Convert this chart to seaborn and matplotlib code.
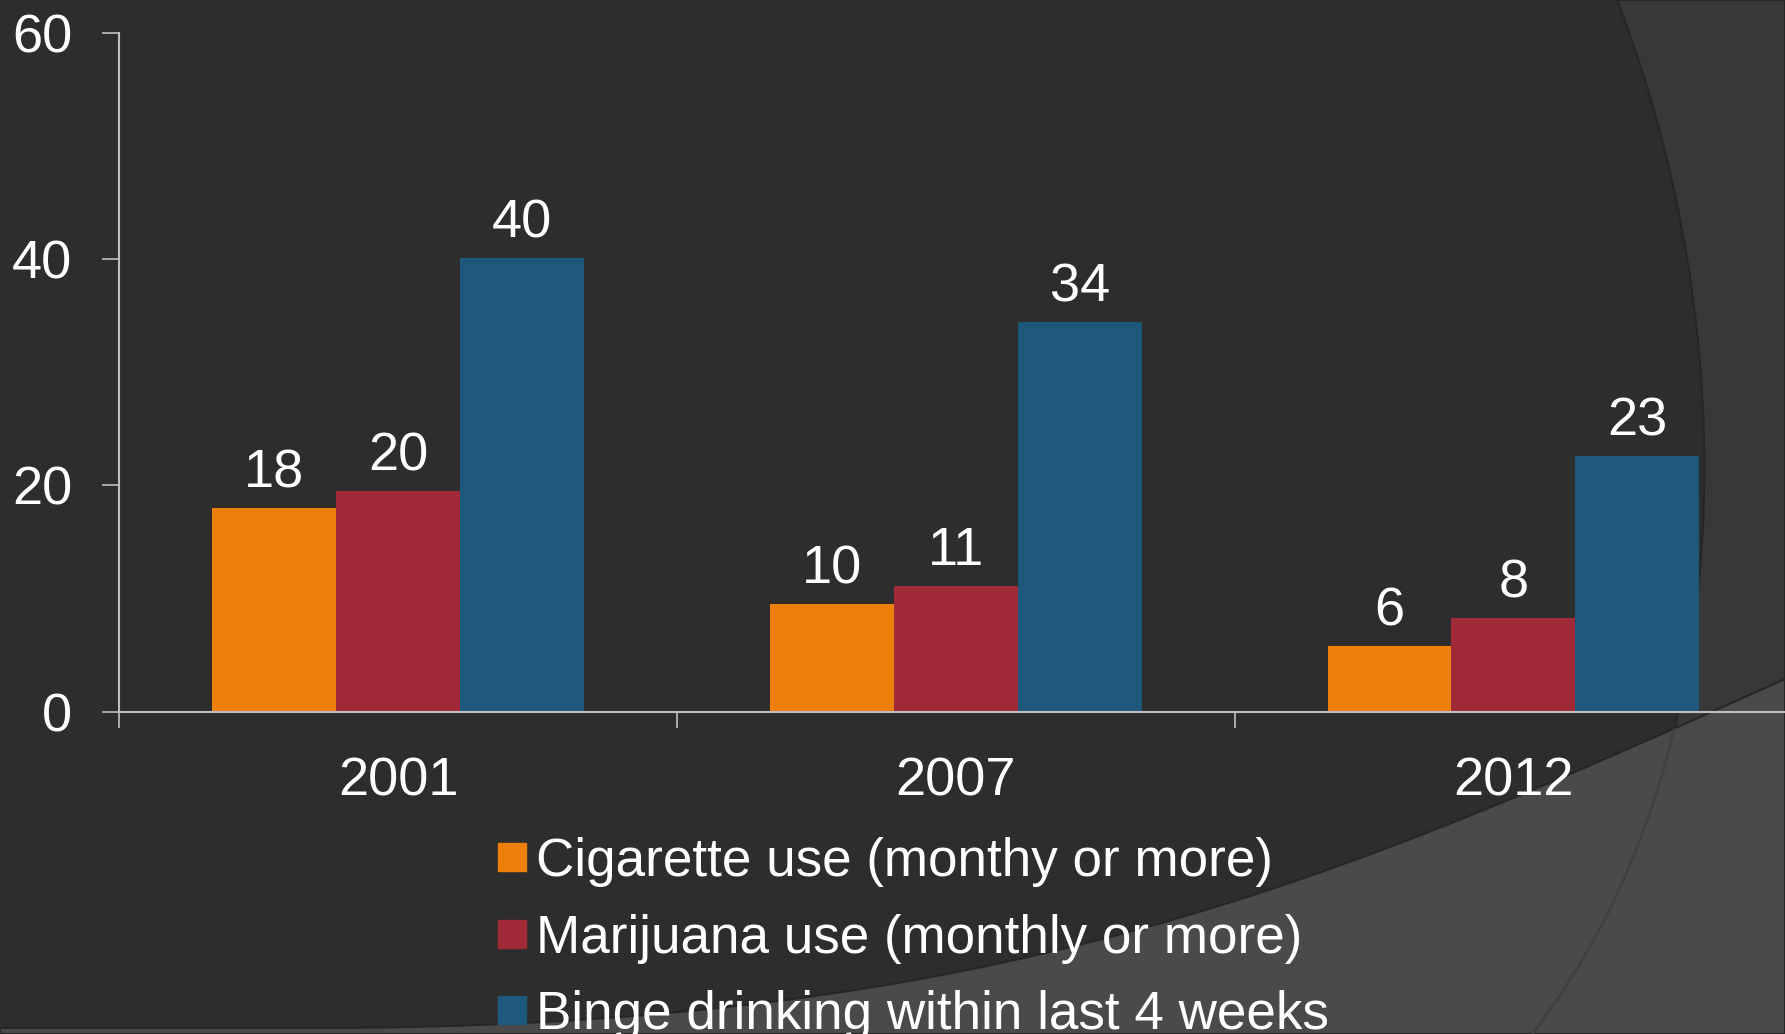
import pandas as pd
import matplotlib.pyplot as plt
import seaborn as sns
from matplotlib.patches import PathPatch
from matplotlib.path import Path
from matplotlib.lines import Line2D

# Data
years = ["2001", "2007", "2012"]
cigarette = [18.0, 9.5, 5.8]
marijuana = [19.5, 11.1, 8.3]
binge = [40.1, 34.4, 22.6]
cig_labels = ["18", "10", "6"]
mar_labels = ["20", "11", "8"]
binge_labels = ["40", "34", "23"]
series = ["Cigarette use (monthy or more)",
          "Marijuana use (monthly or more)",
          "Binge drinking within last 4 weeks"]
colors = ["#EE7F09", "#A12A38", "#1E587C"]

df = pd.DataFrame({
    "year": years * 3,
    "value": cigarette + marijuana + binge,
    "series": [series[0]] * 3 + [series[1]] * 3 + [series[2]] * 3,
})

sns.set_theme(style="dark")
plt.rcParams["font.family"] = ["Liberation Sans", "DejaVu Sans"]

W, H = 1785, 1034
fig = plt.figure(figsize=(W / 100, H / 100), dpi=100, facecolor="#2d2d2d")


# background theme shapes, given in pixels with y from the top
def shape(verts, codes):
    return Path([(x / W, 1 - y / H) for x, y in verts], codes)


C4, L2, M = Path.CURVE4, Path.LINETO, Path.MOVETO
right_path = shape([(1617, 0), (1745, 330), (1745, 760), (1532, 1034),
                    (1785, 1034), (1785, 0), (1617, 0)],
                   [M, C4, C4, C4, L2, L2, L2])
arc_path = shape([(1617, 0), (1745, 330), (1745, 760), (1532, 1034)],
                 [M, C4, C4, C4])
bottom_path = shape([(0, 1028), (300, 1028), (1000, 1030), (1335, 881),
                     (1785, 679), (1785, 1034), (0, 1034), (0, 1028)],
                    [M, L2, C4, C4, C4, L2, L2, L2])

fig.add_artist(PathPatch(right_path, transform=fig.transFigure,
                         facecolor="#383838", edgecolor="#262626", lw=1.5, zorder=-3))
bottom_patch = PathPatch(bottom_path, transform=fig.transFigure,
                         facecolor="#4a4a4a", edgecolor="#262626", lw=1.5, zorder=-2)
fig.add_artist(bottom_patch)
arc_line = PathPatch(arc_path, transform=fig.transFigure, facecolor="none",
                     edgecolor="#404040", lw=2, zorder=-1)
fig.add_artist(arc_line)
arc_line.set_clip_path(bottom_patch)

ax = fig.add_axes([119.4 / W, 1 - 711.7 / H, 1672.8 / W, 679 / H])
ax.set_facecolor("none")

sns.barplot(data=df, x="year", y="value", hue="series", palette=colors,
            width=2 / 3, saturation=1, linewidth=0, ax=ax, legend=False)

for cont, labs in zip(ax.containers, [cig_labels, mar_labels, binge_labels]):
    ax.bar_label(cont, labels=labs, padding=7, color="white", fontsize=39)

ax.set_xlim(-0.5, 2.5)
ax.set_ylim(0, 60)
ax.set_yticks([0, 20, 40, 60])
ax.set_xlabel("")
ax.set_ylabel("")

for s in ["top", "right"]:
    ax.spines[s].set_visible(False)
for s in ["left", "bottom"]:
    ax.spines[s].set_color("#bfbfbf")
    ax.spines[s].set_linewidth(1.5)

ax.tick_params(axis="y", colors="#bfbfbf", labelcolor="white", labelsize=39,
               length=12, width=1.2, pad=22, left=True, direction="out")
ax.tick_params(axis="x", which="major", length=0, labelcolor="white",
               labelsize=39, pad=32, bottom=True)
ax.set_xticks([-0.5, 0.5, 1.5, 2.5], minor=True)
ax.tick_params(axis="x", which="minor", bottom=True, length=11.3, width=1.2,
               colors="#bfbfbf", direction="out")

handles = [Line2D([], [], marker="s", linestyle="", markersize=20,
                  color=c) for c in colors]
ax.legend(handles, series, loc="upper left",
          bbox_to_anchor=(496 / W, 1 - 837 / H), bbox_transform=fig.transFigure,
          frameon=False, fontsize=38.2, labelcolor="white",
          handlelength=0.6, handletextpad=0.16, labelspacing=0.5,
          borderpad=0, borderaxespad=0)

fig.savefig("out.png", dpi=100, facecolor=fig.get_facecolor())
